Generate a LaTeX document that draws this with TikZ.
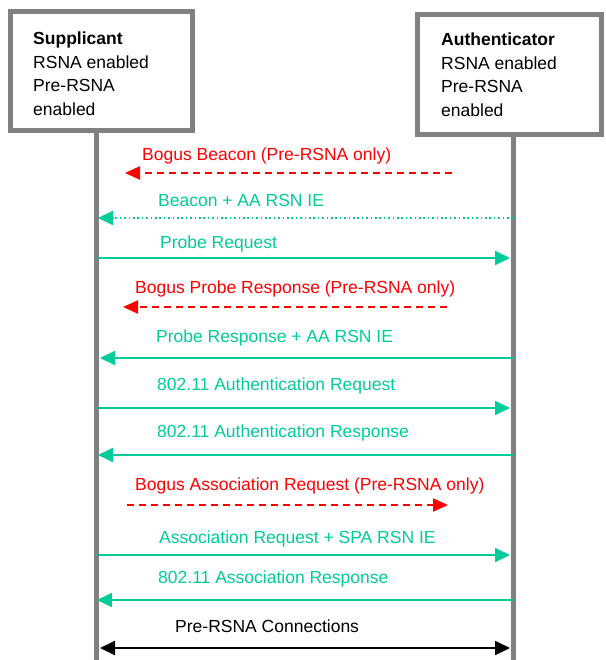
\documentclass[tikz,border=0pt]{standalone}
\usepackage{fontspec}
\setmainfont{Liberation Sans}
\usetikzlibrary{arrows.meta}
\definecolor{msggreen}{RGB}{0,204,153}
\definecolor{msgred}{RGB}{255,0,0}
\definecolor{framegray}{RGB}{128,128,128}
\tikzset{
  party/.style={draw=framegray, line width=5pt, fill=white},
  lifeline/.style={draw=framegray, line width=5pt},
  lbl/.style={anchor=base west, inner sep=0pt, font=\fontsize{17.5}{23.5}\selectfont},
  greenlbl/.style={lbl, text=msggreen},
  redlbl/.style={lbl, text=msgred},
  blacklbl/.style={lbl, text=black},
  greenmsg/.style={draw=msggreen, line width=2pt, -{Triangle[length=15pt,width=14pt]}},
  beaconmsg/.style={draw=msggreen, line width=2pt, dash pattern=on 1.6pt off 2.8pt, -{Triangle[length=15pt,width=14pt,fill=msggreen]}},
  bogusmsg/.style={draw=msgred, line width=2.2pt, dash pattern=on 7pt off 5pt, -{Triangle[length=15pt,width=13pt,fill=msgred]}},
  bothmsg/.style={draw=black, line width=2pt, {Triangle[length=15pt,width=14pt]}-{Triangle[length=15pt,width=14pt]}}
}
\newcommand{\partytext}[1]{\vtop{\baselineskip=23.5pt #1}}
\begin{document}
\begin{tikzpicture}[x=1pt,y=-1pt]
\useasboundingbox (0,0) rectangle (605,660);

% lifelines
\coordinate (suppTop) at (96,131);
\coordinate (suppBot) at (96,662);
\coordinate (authTop) at (513.5,134);
\coordinate (authBot) at (513.5,662);
\draw[lifeline] (suppTop) -- (suppBot);
\draw[lifeline] (authTop) -- (authBot);

% party boxes
\draw[party] (10,11.5) rectangle (192.5,131) coordinate (suppBox);
\draw[party] (417,14.5) rectangle (601,134.5) coordinate (authBox);
\node[lbl] (suppText) at (33,45) {\partytext{\hbox{\bfseries Supplicant}\hbox{RSNA enabled}\hbox{Pre-RSNA}\hbox{enabled}}};
\node[lbl] (authText) at (441,46) {\partytext{\hbox{\bfseries Authenticator}\hbox{RSNA enabled}\hbox{Pre-RSNA}\hbox{enabled}}};

% message end points
\coordinate (b1s) at (452,173);   \coordinate (b1e) at (125,173);
\coordinate (m2s) at (513,218);   \coordinate (m2e) at (98,218);
\coordinate (m3s) at (98,258);    \coordinate (m3e) at (510,258);
\coordinate (b4s) at (447,307);   \coordinate (b4e) at (123,307);
\coordinate (m5s) at (513,358);   \coordinate (m5e) at (100,358);
\coordinate (m6s) at (98,408);    \coordinate (m6e) at (510,408);
\coordinate (m7s) at (513,455);   \coordinate (m7e) at (98,455);
\coordinate (b8s) at (127,505);   \coordinate (b8e) at (448,505);
\coordinate (m9s) at (98,555);    \coordinate (m9e) at (510,555);
\coordinate (m10s) at (513,600);  \coordinate (m10e) at (97,600);
\coordinate (c11s) at (100,648);  \coordinate (c11e) at (510,648);

% messages
\draw[bogusmsg] (b1s) -- (b1e);
\node[redlbl] (t1) at (142,161) {Bogus Beacon (Pre-RSNA only)};

\draw[beaconmsg] (m2s) -- (m2e);
\node[greenlbl] (t2) at (158,207) {Beacon + AA RSN IE};

\draw[greenmsg] (m3s) -- (m3e);
\node[greenlbl] (t3) at (160,248) {Probe Request};

\draw[bogusmsg] (b4s) -- (b4e);
\node[redlbl] (t4) at (135,293) {Bogus Probe Response (Pre-RSNA only)};

\draw[greenmsg] (m5s) -- (m5e);
\node[greenlbl] (t5) at (156,342) {Probe Response + AA RSN IE};

\draw[greenmsg] (m6s) -- (m6e);
\node[greenlbl] (t6) at (157,390) {802.11 Authentication Request};

\draw[greenmsg] (m7s) -- (m7e);
\node[greenlbl] (t7) at (157,437) {802.11 Authentication Response};

\draw[bogusmsg] (b8s) -- (b8e);
\node[redlbl] (t8) at (135,490) {Bogus Association Request (Pre-RSNA only)};

\draw[greenmsg] (m9s) -- (m9e);
\node[greenlbl] (t9) at (159,543) {Association Request + SPA RSN IE};

\draw[greenmsg] (m10s) -- (m10e);
\node[greenlbl] (t10) at (158,583) {802.11 Association Response};

\draw[bothmsg] (c11s) -- (c11e);
\node[blacklbl] (t11) at (175,632) {Pre-RSNA Connections};
\end{tikzpicture}
\end{document}
